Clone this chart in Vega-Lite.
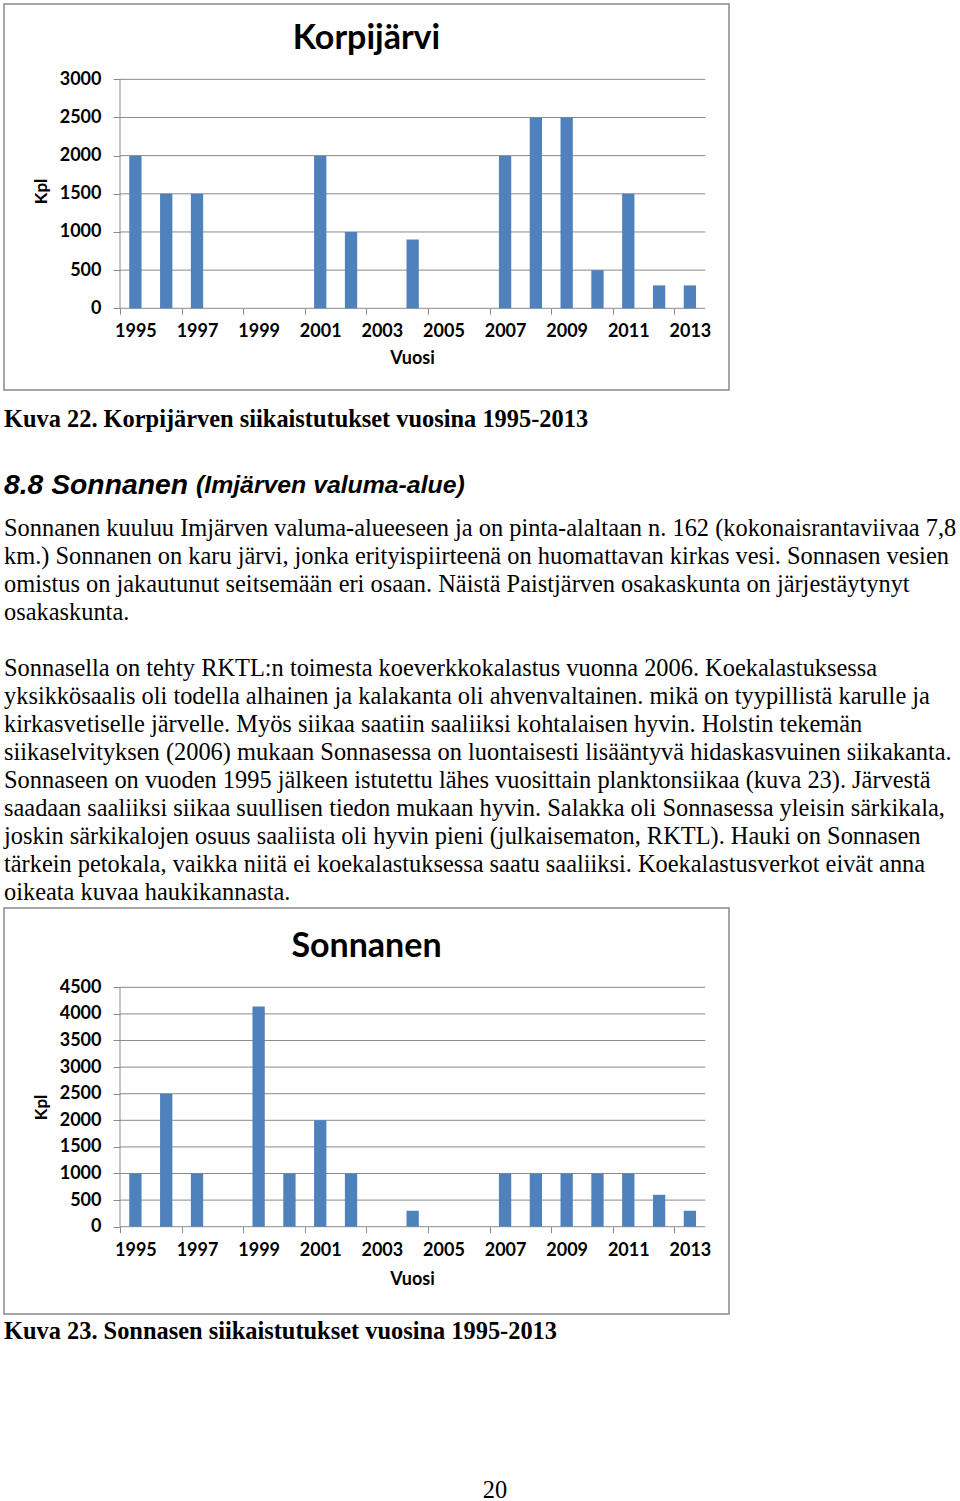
{
  "$schema": "https://vega.github.io/schema/vega-lite/v6.json",
  "background": "white",
  "padding": {"left": 3, "top": 3, "right": 0, "bottom": 0},
  "spacing": 0,
  "config": {"view": {"stroke": null}},
  "vconcat": [
    {
      "width": 725, "height": 386,
      "view": {"stroke": "#8a8a8a", "strokeWidth": 1.5},
      "title": {"text": "Korpijärvi", "font": "Lato", "fontSize": 34, "fontWeight": "bold", "color": "#000000", "anchor": "middle", "baseline": "middle", "offset": -69},
      "layer": [
        {
          "data": {"values": [{"tick": 0}, {"tick": 500}, {"tick": 1000}, {"tick": 1500}, {"tick": 2000}, {"tick": 2500}, {"tick": 3000}]},
          "mark": {"type": "rule", "color": "#8a8a8a", "strokeWidth": 1},
          "encoding": {
            "y": {"field": "tick", "type": "quantitative", "scale": {"domain": [-1070.3, 3986.5], "zero": false, "nice": false}},
            "x": {"datum": 1994.5, "type": "quantitative", "scale": {"domain": [1990.7344, 2014.2694], "zero": false, "nice": false, "padding": 0}},
            "x2": {"datum": 2013.5}
          }
        },
        {
          "data": {"values": [{"axis": "y"}]},
          "mark": {"type": "rule", "color": "#8a8a8a", "strokeWidth": 1},
          "encoding": {
            "x": {"datum": 1994.5, "type": "quantitative", "scale": {"domain": [1990.7344, 2014.2694], "zero": false, "nice": false, "padding": 0}},
            "y": {"datum": 0, "type": "quantitative", "scale": {"domain": [-1070.3, 3986.5], "zero": false, "nice": false}},
            "y2": {"datum": 3000}
          }
        },
        {
          "data": {"values": [
            {"year": 1995, "value": 2000}, {"year": 1996, "value": 1500}, {"year": 1997, "value": 1500},
            {"year": 1998, "value": 0}, {"year": 1999, "value": 0}, {"year": 2000, "value": 0},
            {"year": 2001, "value": 2000}, {"year": 2002, "value": 1000}, {"year": 2003, "value": 0},
            {"year": 2004, "value": 900}, {"year": 2005, "value": 0}, {"year": 2006, "value": 0},
            {"year": 2007, "value": 2000}, {"year": 2008, "value": 2500}, {"year": 2009, "value": 2500},
            {"year": 2010, "value": 500}, {"year": 2011, "value": 1500}, {"year": 2012, "value": 300},
            {"year": 2013, "value": 300}
          ]},
          "mark": {"type": "bar", "width": 12.3, "color": "#4f81bd"},
          "encoding": {
            "x": {"field": "year", "type": "quantitative",
              "scale": {"domain": [1990.7344, 2014.2694], "zero": false, "nice": false, "padding": 0},
              "axis": {"values": [1995, 1996, 1997, 1998, 1999, 2000, 2001, 2002, 2003, 2004, 2005, 2006, 2007, 2008, 2009, 2010, 2011, 2012, 2013, 2014],
                "offset": -81.7, "domain": false, "grid": false, "ticks": true, "tickSize": 6, "tickColor": "#8a8a8a", "tickOffset": -15.4, "labelOffset": 15.4,
                "labelExpr": "(datum.value % 2 == 1 && datum.value < 2014) ? '' + datum.value : ''",
                "labelFont": "Lato", "labelFontSize": 18, "labelFontWeight": "bold", "labelColor": "#000000", "labelAngle": 0,
                "labelBaseline": "middle", "labelPadding": 17, "labelFlush": false, "labelOverlap": false,
                "title": "Vuosi", "titleFont": "Lato", "titleFontSize": 18, "titleFontWeight": "bold", "titleColor": "#000000",
                "titleX": 408, "titleY": 50, "titleBaseline": "middle", "titleAlign": "center"}},
            "y": {"field": "value", "type": "quantitative",
              "scale": {"domain": [-1070.3, 3986.5], "zero": false, "nice": false},
              "axis": {"values": [0, 500, 1000, 1500, 2000, 2500, 3000], "format": "d",
                "offset": -116, "domain": false, "grid": false, "ticks": true, "tickSize": 7, "tickColor": "#8a8a8a",
                "labelFont": "Lato", "labelFontSize": 18, "labelFontWeight": "bold", "labelColor": "#000000",
                "labelPadding": 12, "labelOverlap": false, "labelFlush": false,
                "title": "Kpl", "titleFont": "Lato", "titleFontSize": 17, "titleFontWeight": "bold", "titleColor": "#000000",
                "titleX": -79, "titleY": 187, "titleAngle": -90, "titleBaseline": "middle", "titleAlign": "center"}},
            "y2": {"datum": 0}
          }
        }
      ]
    },
    {
      "width": 957, "height": 57,
      "data": {"values": [{"line": 1, "text": "Kuva 22. Korpijärven siikaistutukset vuosina 1995-2013"}]},
      "mark": {"type": "text", "align": "left", "baseline": "middle", "font": "Liberation Serif", "fontSize": 24.4, "fontWeight": "bold", "color": "#000000"},
      "encoding": {
        "text": {"field": "text"},
        "y": {"field": "line", "type": "ordinal", "axis": null},
        "x": {"datum": 0, "type": "quantitative", "scale": {"domain": [0, 1]}, "axis": null}
      }
    },
    {
      "spacing": 0,
      "hconcat": [
        {
          "width": 192, "height": 67,
          "data": {"values": [{"line": 1, "text": "8.8 Sonnanen"}]},
          "mark": {"type": "text", "align": "left", "baseline": "middle", "font": "Liberation Sans", "fontSize": 28.3, "fontWeight": "bold", "fontStyle": "italic", "color": "#000000"},
          "encoding": {
            "text": {"field": "text"},
            "y": {"field": "line", "type": "ordinal", "axis": null, "scale": {"align": 0.567}},
            "x": {"datum": 0, "type": "quantitative", "scale": {"domain": [0, 1]}, "axis": null}
          }
        },
        {
          "width": 765, "height": 67,
          "data": {"values": [{"line": 1, "text": "(Imjärven valuma-alue)"}]},
          "mark": {"type": "text", "align": "left", "baseline": "middle", "font": "Liberation Sans", "fontSize": 24.8, "fontWeight": "bold", "fontStyle": "italic", "color": "#000000"},
          "encoding": {
            "text": {"field": "text"},
            "y": {"field": "line", "type": "ordinal", "axis": null, "scale": {"align": 0.567}},
            "x": {"datum": 0, "type": "quantitative", "scale": {"domain": [0, 1]}, "axis": null}
          }
        }
      ]
    },
    {
      "width": 957, "height": 392,
      "data": {"values": [
        {"line": 1, "text": "Sonnanen kuuluu Imjärven valuma-alueeseen ja on pinta-alaltaan n. 162 (kokonaisrantaviivaa 7,8"},
        {"line": 2, "text": "km.) Sonnanen on karu järvi, jonka erityispiirteenä on huomattavan kirkas vesi. Sonnasen vesien"},
        {"line": 3, "text": "omistus on jakautunut seitsemään eri osaan. Näistä Paistjärven osakaskunta on järjestäytynyt"},
        {"line": 4, "text": "osakaskunta."},
        {"line": 5, "text": ""},
        {"line": 6, "text": "Sonnasella on tehty RKTL:n toimesta koeverkkokalastus vuonna 2006. Koekalastuksessa"},
        {"line": 7, "text": "yksikkösaalis oli todella alhainen ja kalakanta oli ahvenvaltainen. mikä on tyypillistä karulle ja"},
        {"line": 8, "text": "kirkasvetiselle järvelle. Myös siikaa saatiin saaliiksi kohtalaisen hyvin. Holstin tekemän"},
        {"line": 9, "text": "siikaselvityksen (2006) mukaan Sonnasessa on luontaisesti lisääntyvä hidaskasvuinen siikakanta."},
        {"line": 10, "text": "Sonnaseen on vuoden 1995 jälkeen istutettu lähes vuosittain planktonsiikaa (kuva 23). Järvestä"},
        {"line": 11, "text": "saadaan saaliiksi siikaa suullisen tiedon mukaan hyvin. Salakka oli Sonnasessa yleisin särkikala,"},
        {"line": 12, "text": "joskin särkikalojen osuus saaliista oli hyvin pieni (julkaisematon, RKTL). Hauki on Sonnasen"},
        {"line": 13, "text": "tärkein petokala, vaikka niitä ei koekalastuksessa saatu saaliiksi. Koekalastusverkot eivät anna"},
        {"line": 14, "text": "oikeata kuvaa haukikannasta."}
      ]},
      "mark": {"type": "text", "align": "left", "baseline": "middle", "font": "Liberation Serif", "fontSize": 24.4, "color": "#000000"},
      "encoding": {
        "text": {"field": "text"},
        "y": {"field": "line", "type": "ordinal", "axis": null, "scale": {"padding": 0.5}},
        "x": {"datum": 0, "type": "quantitative", "scale": {"domain": [0, 1]}, "axis": null}
      }
    },
    {
      "width": 725, "height": 406,
      "view": {"stroke": "#8a8a8a", "strokeWidth": 1.5},
      "title": {"text": "Sonnanen", "font": "Lato", "fontSize": 34, "fontWeight": "bold", "color": "#000000", "anchor": "middle", "baseline": "middle", "offset": -73},
      "layer": [
        {
          "data": {"values": [{"tick": 0}, {"tick": 500}, {"tick": 1000}, {"tick": 1500}, {"tick": 2000}, {"tick": 2500}, {"tick": 3000}, {"tick": 3500}, {"tick": 4000}, {"tick": 4500}]},
          "mark": {"type": "rule", "color": "#8a8a8a", "strokeWidth": 1},
          "encoding": {
            "y": {"field": "tick", "type": "quantitative", "scale": {"domain": [-1641, 5990.6], "zero": false, "nice": false}},
            "x": {"datum": 1994.5, "type": "quantitative", "scale": {"domain": [1990.7344, 2014.2694], "zero": false, "nice": false, "padding": 0}},
            "x2": {"datum": 2013.5}
          }
        },
        {
          "data": {"values": [{"axis": "y"}]},
          "mark": {"type": "rule", "color": "#8a8a8a", "strokeWidth": 1},
          "encoding": {
            "x": {"datum": 1994.5, "type": "quantitative", "scale": {"domain": [1990.7344, 2014.2694], "zero": false, "nice": false, "padding": 0}},
            "y": {"datum": 0, "type": "quantitative", "scale": {"domain": [-1641, 5990.6], "zero": false, "nice": false}},
            "y2": {"datum": 4500}
          }
        },
        {
          "data": {"values": [
            {"year": 1995, "value": 1000}, {"year": 1996, "value": 2500}, {"year": 1997, "value": 1000},
            {"year": 1998, "value": 0}, {"year": 1999, "value": 4140}, {"year": 2000, "value": 1000},
            {"year": 2001, "value": 2000}, {"year": 2002, "value": 1000}, {"year": 2003, "value": 0},
            {"year": 2004, "value": 300}, {"year": 2005, "value": 0}, {"year": 2006, "value": 0},
            {"year": 2007, "value": 1000}, {"year": 2008, "value": 1000}, {"year": 2009, "value": 1000},
            {"year": 2010, "value": 1000}, {"year": 2011, "value": 1000}, {"year": 2012, "value": 600},
            {"year": 2013, "value": 300}
          ]},
          "mark": {"type": "bar", "width": 12.3, "color": "#4f81bd"},
          "encoding": {
            "x": {"field": "year", "type": "quantitative",
              "scale": {"domain": [1990.7344, 2014.2694], "zero": false, "nice": false, "padding": 0},
              "axis": {"values": [1995, 1996, 1997, 1998, 1999, 2000, 2001, 2002, 2003, 2004, 2005, 2006, 2007, 2008, 2009, 2010, 2011, 2012, 2013, 2014],
                "offset": -87.3, "domain": false, "grid": false, "ticks": true, "tickSize": 6, "tickColor": "#8a8a8a", "tickOffset": -15.4, "labelOffset": 15.4,
                "labelExpr": "(datum.value % 2 == 1 && datum.value < 2014) ? '' + datum.value : ''",
                "labelFont": "Lato", "labelFontSize": 18, "labelFontWeight": "bold", "labelColor": "#000000", "labelAngle": 0,
                "labelBaseline": "middle", "labelPadding": 18, "labelFlush": false, "labelOverlap": false,
                "title": "Vuosi", "titleFont": "Lato", "titleFontSize": 18, "titleFontWeight": "bold", "titleColor": "#000000",
                "titleX": 408, "titleY": 53, "titleBaseline": "middle", "titleAlign": "center"}},
            "y": {"field": "value", "type": "quantitative",
              "scale": {"domain": [-1641, 5990.6], "zero": false, "nice": false},
              "axis": {"values": [0, 500, 1000, 1500, 2000, 2500, 3000, 3500, 4000, 4500], "format": "d",
                "offset": -116, "domain": false, "grid": false, "ticks": true, "tickSize": 7, "tickColor": "#8a8a8a",
                "labelFont": "Lato", "labelFontSize": 18, "labelFontWeight": "bold", "labelColor": "#000000",
                "labelPadding": 12, "labelOverlap": false, "labelFlush": false,
                "title": "Kpl", "titleFont": "Lato", "titleFontSize": 17, "titleFontWeight": "bold", "titleColor": "#000000",
                "titleX": -79, "titleY": 199, "titleAngle": -90, "titleBaseline": "middle", "titleAlign": "center"}},
            "y2": {"datum": 0}
          }
        }
      ]
    },
    {
      "width": 957, "height": 34,
      "data": {"values": [{"line": 1, "text": "Kuva 23. Sonnasen siikaistutukset vuosina 1995-2013"}]},
      "mark": {"type": "text", "align": "left", "baseline": "middle", "font": "Liberation Serif", "fontSize": 24.4, "fontWeight": "bold", "color": "#000000"},
      "encoding": {
        "text": {"field": "text"},
        "y": {"field": "line", "type": "ordinal", "axis": null},
        "x": {"datum": 0, "type": "quantitative", "scale": {"domain": [0, 1]}, "axis": null}
      }
    },
    {
      "width": 957, "height": 150,
      "data": {"values": [{"page": 20}]},
      "mark": {"type": "text", "align": "center", "baseline": "middle", "font": "Liberation Serif", "fontSize": 24.4, "color": "#000000"},
      "encoding": {
        "text": {"field": "page"},
        "y": {"field": "page", "type": "ordinal", "axis": null, "scale": {"align": 0.945}},
        "x": {"datum": 0.513, "type": "quantitative", "scale": {"domain": [0, 1]}, "axis": null}
      }
    }
  ]
}
